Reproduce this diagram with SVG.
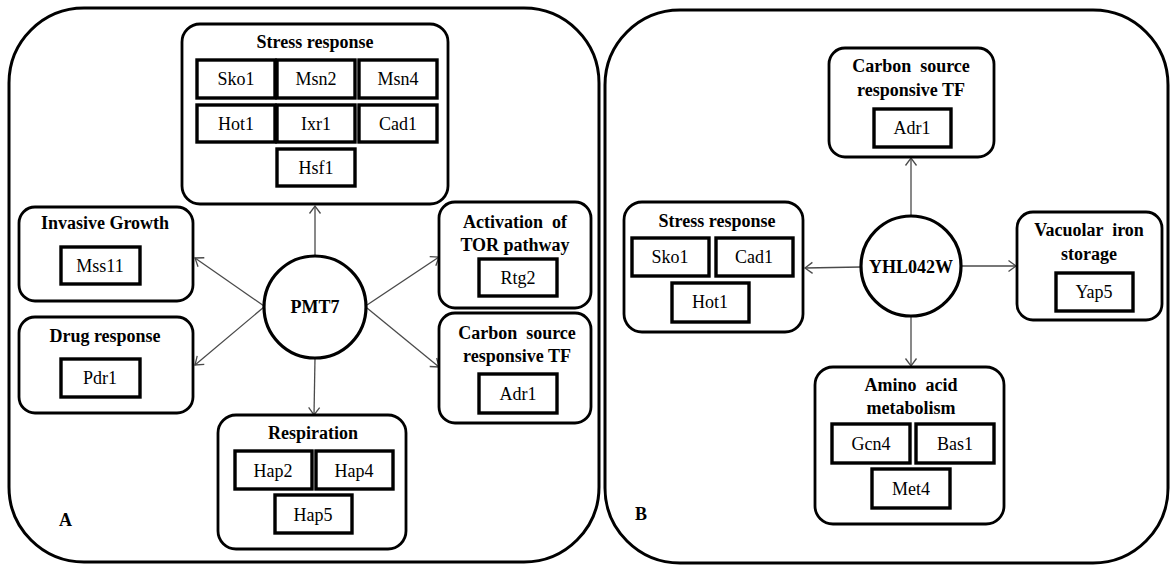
<svg xmlns="http://www.w3.org/2000/svg" width="1171" height="565" viewBox="0 0 1171 565">
  <style>
    .panel { fill: #fff; stroke: #000; stroke-width: 3; }
    .group { fill: #fff; stroke: #000; stroke-width: 2.8; }
    .item { fill: #fff; stroke: #000; stroke-width: 3.4; }
    .hub { fill: #fff; stroke: #000; stroke-width: 3.2; }
    .title { font-family: "Liberation Serif", "Times New Roman", serif; font-weight: bold; font-size: 18px; text-anchor: middle; fill: #000; white-space: pre; }
    .lbl { font-family: "Liberation Serif", "Times New Roman", serif; font-size: 18px; text-anchor: middle; fill: #000; }
    .tag { font-family: "Liberation Serif", "Times New Roman", serif; font-weight: bold; font-size: 18px; fill: #000; }
    .conn line { stroke: #4a4a4a; stroke-width: 1.3; marker-end: url(#open); }
  </style>
  <defs>
    <marker id="open" markerUnits="userSpaceOnUse" markerWidth="16" markerHeight="16" viewBox="-9 -8 10 16" refX="0" refY="0" orient="auto">
      <path d="M-7.5,-5.5 L0,0 L-7.5,5.5" fill="none" stroke="#4a4a4a" stroke-width="1.3"/>
    </marker>
  </defs>

  <!-- Panel frames -->
  <rect id="panelA" class="panel" x="9" y="8" width="590" height="554" rx="75"/>
  <rect id="panelB" class="panel" x="605" y="10" width="563" height="553" rx="75"/>

  <!-- Connectors -->
  <g id="connectors" class="conn">
    <line x1="315" y1="257" x2="315" y2="206"/>
    <line x1="264" y1="306" x2="195" y2="258"/>
    <line x1="264" y1="307" x2="195" y2="365"/>
    <line x1="367" y1="305" x2="439" y2="257"/>
    <line x1="367" y1="308" x2="439" y2="367"/>
    <line x1="315" y1="358" x2="314" y2="415"/>
    <line x1="911" y1="217" x2="911" y2="158"/>
    <line x1="861" y1="267" x2="805" y2="268"/>
    <line x1="962" y1="266" x2="1016" y2="266"/>
    <line x1="911" y1="316" x2="911" y2="366"/>
  </g>

  <!-- Panel A -->
  <g id="a-stress">
    <rect class="group" x="182" y="24" width="266" height="180" rx="18"/>
    <text class="title" x="315" y="48">Stress response</text>
    <rect class="item" x="197" y="60" width="78" height="38"/>
    <text class="lbl" x="236" y="85">Sko1</text>
    <rect class="item" x="277" y="60" width="78" height="38"/>
    <text class="lbl" x="316" y="85">Msn2</text>
    <rect class="item" x="359" y="60" width="78" height="38"/>
    <text class="lbl" x="398" y="85">Msn4</text>
    <rect class="item" x="197" y="105" width="78" height="37"/>
    <text class="lbl" x="236" y="130">Hot1</text>
    <rect class="item" x="277" y="105" width="78" height="37"/>
    <text class="lbl" x="316" y="130">Ixr1</text>
    <rect class="item" x="359" y="105" width="78" height="37"/>
    <text class="lbl" x="398" y="130">Cad1</text>
    <rect class="item" x="277" y="149" width="78" height="37"/>
    <text class="lbl" x="316" y="174">Hsf1</text>
  </g>

  <g id="a-invasive">
    <rect class="group" x="19" y="207" width="174" height="94" rx="16"/>
    <text class="title" x="105" y="229">Invasive Growth</text>
    <rect class="item" x="61" y="247" width="79" height="37"/>
    <text class="lbl" x="100" y="272">Mss11</text>
  </g>

  <g id="a-drug">
    <rect class="group" x="19" y="317" width="174" height="96" rx="16"/>
    <text class="title" x="105" y="342">Drug response</text>
    <rect class="item" x="61" y="359" width="79" height="38"/>
    <text class="lbl" x="100" y="384">Pdr1</text>
  </g>

  <g id="a-tor">
    <rect class="group" x="439" y="202" width="152" height="106" rx="16"/>
    <text class="title" x="515" y="228">Activation  of</text>
    <text class="title" x="515" y="251">TOR pathway</text>
    <rect class="item" x="479" y="259" width="78" height="37"/>
    <text class="lbl" x="518" y="284">Rtg2</text>
  </g>

  <g id="a-carbon">
    <rect class="group" x="439" y="313" width="152" height="110" rx="16"/>
    <text class="title" x="517" y="339">Carbon  source</text>
    <text class="title" x="517" y="362">responsive TF</text>
    <rect class="item" x="479" y="374" width="78" height="39"/>
    <text class="lbl" x="518" y="400">Adr1</text>
  </g>

  <g id="a-respiration">
    <rect class="group" x="218" y="415" width="188" height="134" rx="18"/>
    <text class="title" x="313" y="439">Respiration</text>
    <rect class="item" x="235" y="451" width="77" height="38"/>
    <text class="lbl" x="273" y="477">Hap2</text>
    <rect class="item" x="316" y="451" width="77" height="38"/>
    <text class="lbl" x="354" y="477">Hap4</text>
    <rect class="item" x="275" y="495" width="77" height="38"/>
    <text class="lbl" x="313" y="521">Hap5</text>
  </g>

  <g id="a-hub">
    <circle class="hub" cx="315" cy="307" r="51"/>
    <text class="title" x="315" y="313">PMT7</text>
  </g>

  <text id="labelA" class="tag" x="59" y="526">A</text>

  <!-- Panel B -->
  <g id="b-carbon">
    <rect class="group" x="829" y="48" width="165" height="109" rx="16"/>
    <text class="title" x="911" y="72">Carbon  source</text>
    <text class="title" x="911" y="96">responsive TF</text>
    <rect class="item" x="874" y="109" width="77" height="38"/>
    <text class="lbl" x="912" y="134">Adr1</text>
  </g>

  <g id="b-stress">
    <rect class="group" x="624" y="202" width="179" height="130" rx="18"/>
    <text class="title" x="717" y="227">Stress response</text>
    <rect class="item" x="632" y="238" width="77" height="38"/>
    <text class="lbl" x="670" y="263">Sko1</text>
    <rect class="item" x="716" y="238" width="77" height="38"/>
    <text class="lbl" x="754" y="263">Cad1</text>
    <rect class="item" x="672" y="283" width="77" height="39"/>
    <text class="lbl" x="710" y="308">Hot1</text>
  </g>

  <g id="b-vacuolar">
    <rect class="group" x="1017" y="212" width="145" height="108" rx="16"/>
    <text class="title" x="1089" y="236">Vacuolar  iron</text>
    <text class="title" x="1089" y="260">storage</text>
    <rect class="item" x="1056" y="273" width="77" height="38"/>
    <text class="lbl" x="1094" y="298">Yap5</text>
  </g>

  <g id="b-amino">
    <rect class="group" x="815" y="367" width="189" height="157" rx="18"/>
    <text class="title" x="911" y="391">Amino  acid</text>
    <text class="title" x="911" y="414">metabolism</text>
    <rect class="item" x="832" y="424" width="78" height="39"/>
    <text class="lbl" x="871" y="450">Gcn4</text>
    <rect class="item" x="916" y="424" width="78" height="39"/>
    <text class="lbl" x="955" y="450">Bas1</text>
    <rect class="item" x="872" y="469" width="78" height="39"/>
    <text class="lbl" x="911" y="495">Met4</text>
  </g>

  <g id="b-hub">
    <circle class="hub" cx="911" cy="266" r="50"/>
    <text class="title" x="911" y="273">YHL042W</text>
  </g>

  <text id="labelB" class="tag" x="635" y="520">B</text>
</svg>
